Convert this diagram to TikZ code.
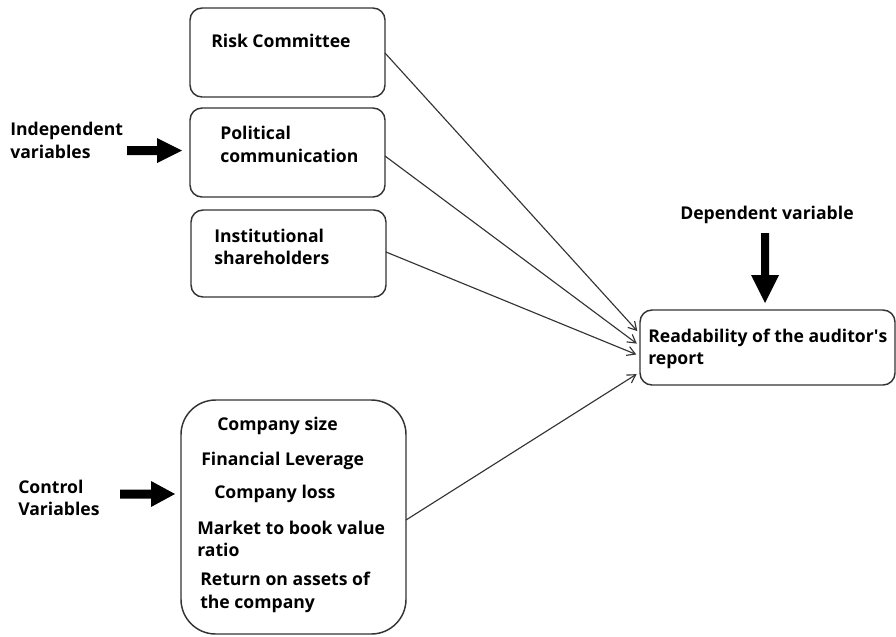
\documentclass[tikz,border=0pt]{standalone}
\usepackage{fontspec}
\setmainfont{Open Sans}
\usetikzlibrary{arrows.meta,calc}
\definecolor{edge}{HTML}{333333}
\begin{document}
\begin{tikzpicture}[x=0.75pt,y=-0.75pt,
  box/.style={draw=edge,line width=1.1pt,rounded corners=9pt},
  txt/.style={inner sep=0pt,anchor=base west,font=\fontsize{13.2}{17}\selectfont\bfseries},
  link/.style={draw=edge,line width=0.85pt,-{Straight Barb[length=6pt,width=7pt]},shorten >=3pt},
  blockarrow/.style={fill=black}]
\useasboundingbox (0,0) rectangle (896,636);

% variable boxes
\draw[box] (190,8) rectangle (385,97);
\draw[box] (190,108) rectangle (385,197);
\draw[box] (191,210) rectangle (386,297);
\draw[box,rounded corners=26pt] (181,400) rectangle (406,634);
\draw[box] (640,310) rectangle (895,385);

% points on the box borders where the connectors meet
\coordinate (riskE) at (385,53);
\coordinate (polE) at (385,156);
\coordinate (instE) at (386,252);
\coordinate (ctrlE) at (406,520);
\coordinate (readA) at (640,334);
\coordinate (readB) at (640,346);
\coordinate (readC) at (640,356);
\coordinate (readD) at (640,372);

% box texts
\node[txt] (t1) at (211,47) {Risk Committee};
\node[txt] (t2a) at (220,139) {Political};
\node[txt] (t2b) at (220,162) {communication};
\node[txt] (t3a) at (214,242) {Institutional};
\node[txt] (t3b) at (214,264) {shareholders};
\node[txt] (r1) at (648,342) {Readability of the auditor\textquotesingle s};
\node[txt] (r2) at (648,364) {report};
\node[txt] (c1) at (217,430) {Company size};
\node[txt] (c2) at (201,465) {Financial Leverage};
\node[txt] (c3) at (214,498) {Company loss};
\node[txt] (c4) at (197,534) {Market to book value};
\node[txt] (c5) at (197,556) {ratio};
\node[txt] (c6) at (200,585) {Return on assets of};
\node[txt] (c7) at (200,608) {the company};

% side labels
\node[txt] (ind1) at (10,135) {Independent};
\node[txt] (ind2) at (10,158) {variables};
\node[txt] (con1) at (18,493) {Control};
\node[txt] (con2) at (18,515) {Variables};
\node[txt] (dep) at (680,219) {Dependent variable};

% block arrows
\fill[blockarrow] (127,146) -- (157,146) -- (157,138) -- (182,150.5) -- (157,163) -- (157,155) -- (127,155) -- cycle;
\fill[blockarrow] (120,489.5) -- (151,489.5) -- (151,481) -- (175,494) -- (151,507) -- (151,498.5) -- (120,498.5) -- cycle;
\fill[blockarrow] (761,233) -- (769,233) -- (769,275) -- (779,275) -- (765,303) -- (751,275) -- (761,275) -- cycle;

% connectors
\draw[link] (riskE) -- (readA);
\draw[link] (polE) -- (readB);
\draw[link] (instE) -- (readC);
\draw[link] (ctrlE) -- (readD);
\end{tikzpicture}
\end{document}
